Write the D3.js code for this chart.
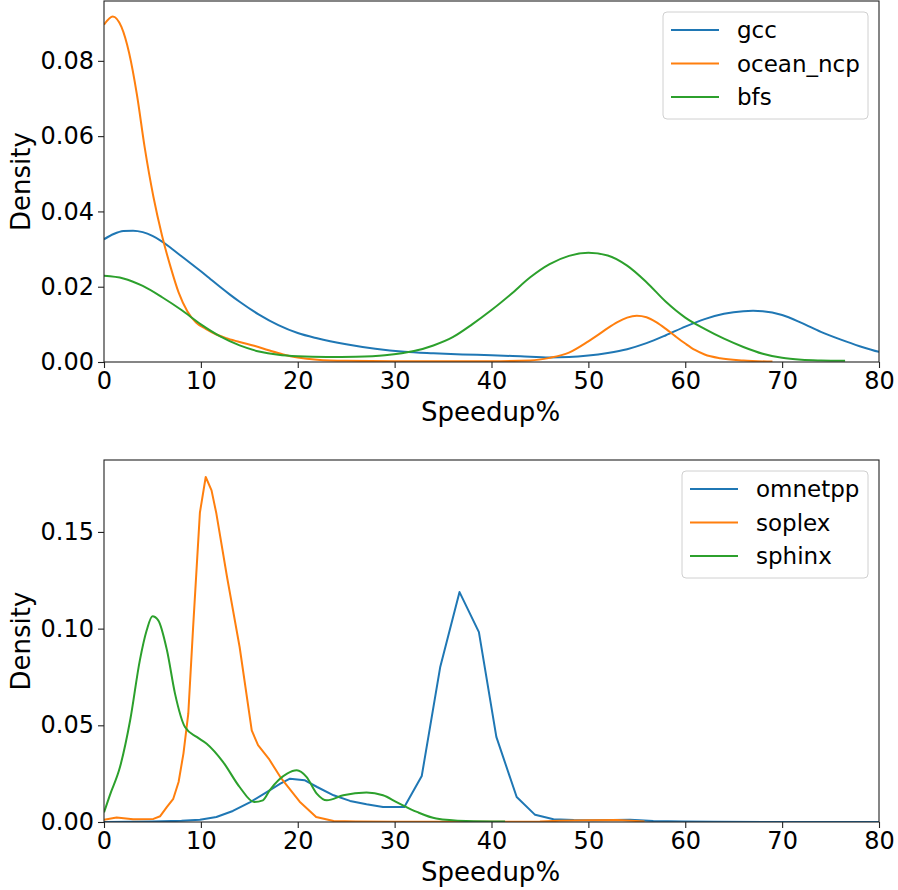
<!DOCTYPE html>
<html>
<head>
<meta charset="utf-8">
<script src="https://cdn.jsdelivr.net/npm/d3@7/dist/d3.min.js"></script>
<style>
  html, body { margin: 0; padding: 0; background: #fff; }
  svg { display: block; font-family: "DejaVu Sans", sans-serif; }
</style>
</head>
<body>
<svg id="chart" width="898" height="890"></svg>
<script>
// ---------- Data ----------
const xTicks = [0, 10, 20, 30, 40, 50, 60, 70, 80];
const topYTicks = [0.00, 0.02, 0.04, 0.06, 0.08];
const bottomYTicks = [0.00, 0.05, 0.10, 0.15];
const xLabel = "Speedup%";
const yLabel = "Density";

const topSeriesNames = ["gcc", "ocean_ncp", "bfs"];
const bottomSeriesNames = ["omnetpp", "soplex", "sphinx"];
const colors = ["#1f77b4", "#ff7f0e", "#2ca02c"];

// top panel
const gccX = [0,1,2,3,4,5,6,7,8,9,10,11,12,13,14,16,18,20,22,25,28,31,34,37,40,43,46,48,50,52,54,56,58,60,62,64,66,67,68,70,72,74,76,78,80,82];
const gccY = [0.0326,0.0340,0.0348,0.0349,0.0345,0.0335,0.0320,0.0301,0.0281,0.0261,0.0241,0.0220,0.0199,0.0179,0.0160,0.0126,0.0098,0.0077,0.0063,0.0047,0.0035,0.0027,0.0023,0.0020,0.0018,0.0015,0.0012,0.0013,0.0017,0.0024,0.0034,0.0050,0.0071,0.0094,0.0114,0.0128,0.0135,0.0136,0.0135,0.0125,0.0104,0.0080,0.0060,0.0042,0.0027,0.0017];

const oceanX = [0,0.9,1.8,2.6,3.4,4.2,5.1,6.0,6.9,7.7,8.6,9.5,10.5,11.6,12.8,14.0,15.5,17.0,18.5,20,22,25,30,35,40,44,46,48,50,51,52,53,54,55,56,57,58,59,60,61,62,63.6,66,69];
const oceanY = [0.0896,0.0918,0.0890,0.0820,0.0710,0.0570,0.0439,0.0335,0.0250,0.0185,0.0135,0.0105,0.0088,0.0073,0.0062,0.0053,0.0043,0.0031,0.0020,0.0012,0.0006,0.0003,0.0002,0.0002,0.0002,0.0004,0.0011,0.0025,0.0055,0.0072,0.0090,0.0106,0.0118,0.0123,0.0119,0.0106,0.0088,0.0068,0.0049,0.0032,0.0020,0.0010,0.0004,0.0001];

const bfsX = [0,2,4,6,8,10,12,14,16,18,20,23,26,29,32,34,36,38,40,42,44,46,48,50,52,54,56,58,60,62,64,66,68,70,72,74,76.5];
const bfsY = [0.0229,0.0222,0.0202,0.0172,0.0138,0.0100,0.0068,0.0044,0.0028,0.0019,0.0015,0.0013,0.0014,0.0018,0.0029,0.0044,0.0066,0.0100,0.0138,0.0180,0.0225,0.0260,0.0282,0.0290,0.0283,0.0256,0.0212,0.0160,0.0118,0.0088,0.0062,0.0040,0.0022,0.0011,0.0006,0.0004,0.0003];

// bottom panel
const omnetppX = [0,5,8,9.9,11.6,13.3,15.1,16.8,18.2,19.2,20.7,22,23.7,25.4,27.1,28.8,31.0,32.8,34.7,36.7,38.7,40.5,42.6,44.5,46.4,48.5,50.5,52.5,54.3,56.7,59.8,63,70,80,82];
const omnetppY = [0,0.0002,0.0006,0.0012,0.0026,0.0057,0.0103,0.0155,0.0198,0.0224,0.0216,0.0181,0.0138,0.0109,0.0092,0.0078,0.0078,0.0238,0.0800,0.1189,0.0982,0.0440,0.0129,0.0037,0.0014,0.0010,0.0009,0.0010,0.0012,0.0005,0.0002,0.0001,0,0,0];

const soplexX = [0,1.3,3.0,5.1,5.8,6.5,7.15,7.7,8.2,8.7,9.2,9.9,10.5,11.1,11.6,12.7,14.0,15.25,15.9,17.0,18.3,20.2,21.9,23.7,26,30,40,45,47,50,53,55.8];
const soplexY = [0.0012,0.0023,0.0014,0.0016,0.0030,0.0078,0.0120,0.0207,0.0354,0.0560,0.1008,0.1600,0.1784,0.1715,0.1595,0.1267,0.0905,0.0474,0.0397,0.0328,0.0225,0.0105,0.0026,0.0005,0.0002,0.0001,0.0001,0.0002,0.0006,0.0009,0.0010,0.0003];

const sphinxX = [0,0.6,1.65,2.7,3.7,4.4,5.0,5.6,6.5,7.33,8.36,9.57,10.6,12.3,14.0,15.5,16.4,17.1,18.9,19.9,20.9,21.96,23.0,24.7,27.1,28.8,30.2,32.3,34.3,37.4,41.4];
const sphinxY = [0.0050,0.0138,0.0284,0.0526,0.0836,0.0990,0.1064,0.1043,0.0888,0.0664,0.0491,0.0440,0.0405,0.0310,0.0181,0.0103,0.0112,0.0164,0.0250,0.0267,0.0233,0.0147,0.0112,0.0138,0.0152,0.0138,0.0103,0.0052,0.0018,0.0005,0.0002];

// ---------- Drawing ----------
const svg = d3.select("#chart");
const FONT_TICK = 24, FONT_LABEL = 26, FONT_LEGEND = 23;

function zip(xs, ys) { return xs.map((x, i) => ({ x, y: ys[i] })); }

function panel(opts) {
  const { left, right, top, bottom, yMax, yTicks, series, legend } = opts;
  const x = d3.scaleLinear().domain([0, 80]).range([left, right]);
  const y = d3.scaleLinear().domain([0, yMax]).range([bottom, top]);
  const g = svg.append("g");

  const clipId = "clip" + top;
  svg.append("clipPath").attr("id", clipId)
    .append("rect").attr("x", left).attr("y", top).attr("width", right - left).attr("height", bottom - top);

  const lines = g.append("g").attr("clip-path", `url(#${clipId})`);
  series.forEach((s, i) => {
    const line = d3.line().x(d => x(d.x)).y(d => y(d.y)).curve(s.curve);
    lines.append("path")
      .datum(zip(s.xs, s.ys))
      .attr("fill", "none")
      .attr("stroke", colors[i])
      .attr("stroke-width", 2)
      .attr("stroke-linejoin", "round")
      .attr("d", line);
  });

  // frame
  g.append("rect").attr("x", left).attr("y", top)
    .attr("width", right - left).attr("height", bottom - top)
    .attr("fill", "none").attr("stroke", "#222").attr("stroke-width", 1.1);

  // x axis
  const xa = g.append("g").attr("transform", `translate(0,${bottom})`)
    .call(d3.axisBottom(x).tickValues(xTicks).tickFormat(d3.format("d")).tickSize(6).tickPadding(4));
  xa.select(".domain").remove();
  xa.selectAll("line").attr("stroke", "#222").attr("stroke-width", 1.1);
  xa.selectAll("text").attr("font-size", FONT_TICK).attr("fill", "#000").attr("font-family", "DejaVu Sans");

  // y axis
  const ya = g.append("g").attr("transform", `translate(${left},0)`)
    .call(d3.axisLeft(y).tickValues(yTicks).tickFormat(d3.format(".2f")).tickSize(6).tickPadding(4));
  ya.select(".domain").remove();
  ya.selectAll("line").attr("stroke", "#222").attr("stroke-width", 1.1);
  ya.selectAll("text").attr("font-size", FONT_TICK).attr("fill", "#000").attr("font-family", "DejaVu Sans");

  // axis labels
  g.append("text").attr("x", (left + right) / 2 - 1).attr("y", bottom + 59)
    .attr("text-anchor", "middle").attr("font-size", FONT_LABEL).attr("fill", "#000").text(xLabel);
  g.append("text")
    .attr("transform", `translate(30,${(top + bottom) / 2}) rotate(-90)`)
    .attr("text-anchor", "middle").attr("font-size", FONT_LABEL).attr("fill", "#000").text(yLabel);

  // legend
  const lg = g.append("g");
  lg.append("rect").attr("x", legend.x).attr("y", legend.y)
    .attr("width", legend.w).attr("height", legend.h).attr("rx", 4)
    .attr("fill", "#fff").attr("fill-opacity", 0.8)
    .attr("stroke", "#d0d0d0").attr("stroke-width", 1);
  legend.names.forEach((name, i) => {
    const cy = legend.y + 18 + i * 33.5;
    lg.append("line").attr("x1", legend.x + 8).attr("x2", legend.x + 56)
      .attr("y1", cy).attr("y2", cy).attr("stroke", colors[i]).attr("stroke-width", 2);
    lg.append("text").attr("x", legend.x + 74).attr("y", cy + 8)
      .attr("font-size", FONT_LEGEND).attr("fill", "#000").text(name);
  });
}

panel({
  left: 104, right: 879, top: 1, bottom: 362, yMax: 0.0959, yTicks: topYTicks,
  series: [
    { xs: gccX, ys: gccY, curve: d3.curveMonotoneX },
    { xs: oceanX, ys: oceanY, curve: d3.curveMonotoneX },
    { xs: bfsX, ys: bfsY, curve: d3.curveMonotoneX }
  ],
  legend: { x: 663, y: 12, w: 205, h: 107, names: topSeriesNames }
});

panel({
  left: 104, right: 879, top: 460, bottom: 822, yMax: 0.1872, yTicks: bottomYTicks,
  series: [
    { xs: omnetppX, ys: omnetppY, curve: d3.curveLinear },
    { xs: soplexX, ys: soplexY, curve: d3.curveLinear },
    { xs: sphinxX, ys: sphinxY, curve: d3.curveMonotoneX }
  ],
  legend: { x: 682, y: 471, w: 186, h: 107, names: bottomSeriesNames }
});
</script>
</body>
</html>
